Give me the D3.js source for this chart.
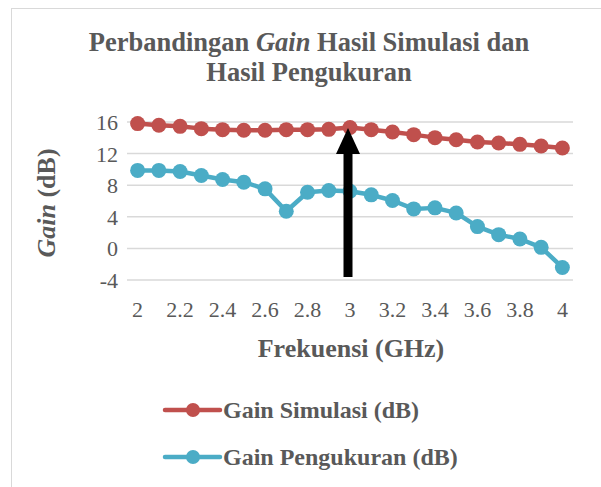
<!DOCTYPE html>
<html>
<head>
<meta charset="utf-8">
<script src="https://d3js.org/d3.v7.min.js"></script>
<style>
  body { margin: 0; background: #fff; }
</style>
</head>
<body>
<div id="chart"></div>
<script>
var freq = ["2","2.1","2.2","2.3","2.4","2.5","2.6","2.7","2.8","2.9","3",
            "3.1","3.2","3.3","3.4","3.5","3.6","3.7","3.8","3.9","4"];
var gainSim = [15.8,15.58,15.45,15.16,15.03,14.95,14.95,15.03,15.03,15.07,15.3,
               15.03,14.73,14.4,14.02,13.76,13.46,13.34,13.17,12.96,12.7];
var gainUkur = [9.87,9.87,9.74,9.23,8.72,8.38,7.54,4.7,7.11,7.33,7.24,
                6.78,6.06,5.0,5.13,4.49,2.76,1.74,1.19,0.13,-2.41];
var yTicks = [-4,0,4,8,12,16];
var seriesNames = ["Gain Simulasi (dB)", "Gain Pengukuran (dB)"];
var colors = ["#C0504D", "#4BACC6"];

var width = 601, height = 487;
var margin = {left: 127, right: 28, top: 122, bottom: 207};
var font = '"Liberation Serif", "Times New Roman", serif';

var svg = d3.select('#chart').append('svg')
  .attr('width', width).attr('height', height)
  .style('font-family', font);

// chart frame
svg.append('rect')
  .attr('x', 11.5).attr('y', 8.5)
  .attr('width', 620).attr('height', 500)
  .attr('fill', 'none').attr('stroke', '#D9D9D9');

var x = d3.scalePoint()
  .domain(freq)
  .range([margin.left, width - margin.right])
  .padding(0.5);

var y = d3.scaleLinear()
  .domain([-4, 16])
  .range([height - margin.bottom, margin.top]);

// gridlines
svg.append('g').selectAll('line')
  .data(yTicks).enter().append('line')
  .attr('x1', margin.left).attr('x2', width - margin.right)
  .attr('y1', function(d){ return y(d); })
  .attr('y2', function(d){ return y(d); })
  .attr('stroke', '#D9D9D9').attr('stroke-width', 1.5);

// y axis labels
svg.append('g').selectAll('text')
  .data(yTicks).enter().append('text')
  .attr('x', 118)
  .attr('y', function(d){ return y(d) + 8; })
  .attr('text-anchor', 'end')
  .attr('fill', '#595959')
  .style('font-size', '22px')
  .text(function(d){ return d; });

// x axis labels (every second category)
svg.append('g').selectAll('text')
  .data(freq.filter(function(d, i){ return i % 2 === 0; })).enter().append('text')
  .attr('x', function(d){ return x(d); })
  .attr('y', 317)
  .attr('text-anchor', 'middle')
  .attr('fill', '#595959')
  .style('font-size', '22px')
  .text(function(d){ return d; });

// titles
var title = svg.append('text')
  .attr('x', 309).attr('y', 51)
  .attr('text-anchor', 'middle')
  .attr('fill', '#595959')
  .style('font-size', '26.5px').style('font-weight', 'bold');
title.append('tspan').text('Perbandingan ');
title.append('tspan').style('font-style', 'italic').text('Gain');
title.append('tspan').text(' Hasil Simulasi dan');
svg.append('text')
  .attr('x', 309).attr('y', 81)
  .attr('text-anchor', 'middle')
  .attr('fill', '#595959')
  .style('font-size', '26.5px').style('font-weight', 'bold')
  .text('Hasil Pengukuran');

svg.append('text')
  .attr('x', 351).attr('y', 357)
  .attr('text-anchor', 'middle')
  .attr('fill', '#595959')
  .style('font-size', '26px').style('font-weight', 'bold')
  .text('Frekuensi (GHz)');

var yt = svg.append('text')
  .attr('transform', 'translate(55,203) rotate(-90)')
  .attr('text-anchor', 'middle')
  .attr('fill', '#595959')
  .style('font-size', '26px').style('font-weight', 'bold');
yt.append('tspan').style('font-style', 'italic').text('Gain');
yt.append('tspan').text(' (dB)');

// series
var series = [gainSim, gainUkur];
var line = d3.line()
  .x(function(d, i){ return x(freq[i]); })
  .y(function(d){ return y(d); });

series.forEach(function(vals, s) {
  var g = svg.append('g');
  g.append('path')
    .attr('d', line(vals))
    .attr('fill', 'none')
    .attr('stroke', colors[s])
    .attr('stroke-width', 4.5)
    .attr('stroke-linejoin', 'round');
  g.selectAll('circle')
    .data(vals).enter().append('circle')
    .attr('cx', function(d, i){ return x(freq[i]); })
    .attr('cy', function(d){ return y(d); })
    .attr('r', 7.5)
    .attr('fill', colors[s]);
});

// arrow at 3 GHz
var ax = x("3") - 2;
svg.append('rect')
  .attr('x', ax - 4.5).attr('y', 150)
  .attr('width', 9).attr('height', 127)
  .attr('fill', '#000');
svg.append('path')
  .attr('d', 'M' + (ax - 12) + ',154 L' + ax + ',128 L' + (ax + 12) + ',154 Z')
  .attr('fill', '#000');

// legend
var legend = svg.append('g');
seriesNames.forEach(function(name, s) {
  var ly = 410 + s * 47;
  legend.append('line')
    .attr('x1', 165).attr('x2', 220)
    .attr('y1', ly).attr('y2', ly)
    .attr('stroke', colors[s]).attr('stroke-width', 4.5)
    .attr('stroke-linecap', 'round');
  legend.append('circle')
    .attr('cx', 193).attr('cy', ly).attr('r', 7)
    .attr('fill', colors[s]);
  legend.append('text')
    .attr('x', 223).attr('y', ly + 8)
    .attr('fill', '#595959')
    .style('font-size', '24px').style('font-weight', 'bold')
    .text(name);
});
</script>
</body>
</html>
